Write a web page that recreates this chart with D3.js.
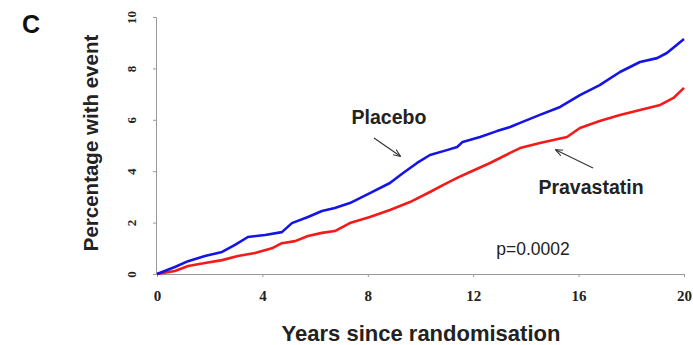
<!DOCTYPE html>
<html>
<head>
<meta charset="utf-8">
<script src="https://cdn.jsdelivr.net/npm/d3@7"></script>
<style>
  body { margin: 0; background: #fff; }
</style>
</head>
<body>
<div id="chart"></div>
<script>
// cumulative event curves (years, percent)
const placeboYears = [0, 0.68, 1.18, 1.82, 2.47, 2.96, 3.45, 4.1, 4.74, 5.12, 5.73, 6.26, 6.75, 7.32, 8.08, 8.84, 9.34, 9.87, 10.36, 11.0, 11.39, 11.6, 12.26, 12.9, 13.4, 13.78, 14.53, 15.3, 16.05, 16.8, 17.57, 18.33, 18.98, 19.35, 20.0];
const placeboPct   = [0, 0.27, 0.5, 0.7, 0.86, 1.13, 1.44, 1.52, 1.63, 1.98, 2.22, 2.45, 2.57, 2.76, 3.15, 3.54, 3.93, 4.32, 4.63, 4.82, 4.94, 5.14, 5.33, 5.56, 5.72, 5.88, 6.19, 6.5, 6.96, 7.35, 7.86, 8.25, 8.4, 8.6, 9.14];
const pravaYears = [0, 0.68, 1.18, 1.82, 2.47, 3.07, 3.72, 4.36, 4.74, 5.24, 5.73, 6.26, 6.75, 7.32, 8.08, 8.84, 9.6, 10.36, 10.85, 11.39, 11.88, 12.64, 13.4, 13.78, 14.53, 15.56, 16.05, 16.8, 17.57, 18.33, 19.1, 19.6, 20.0];
const pravaPct   = [0, 0.12, 0.31, 0.43, 0.54, 0.7, 0.82, 1.0, 1.2, 1.28, 1.48, 1.6, 1.67, 1.98, 2.22, 2.49, 2.8, 3.19, 3.46, 3.74, 3.97, 4.32, 4.71, 4.9, 5.1, 5.33, 5.68, 5.95, 6.19, 6.38, 6.58, 6.85, 7.24];

const xTicks = [0, 4, 8, 12, 16, 20];
const yTicks = [0, 2, 4, 6, 8, 10];

const width = 693, height = 345;

const svg = d3.select("#chart").append("svg")
    .attr("width", width)
    .attr("height", height);

const x = d3.scaleLinear().domain([0, 20]).range([157, 684]);
const y = d3.scaleLinear().domain([0, 10]).range([274, 17]);

const axisColor = "#9a9a9a";

// x axis
const gx = svg.append("g")
    .attr("transform", `translate(0,${y(0)})`)
    .call(d3.axisBottom(x).tickValues(xTicks).tickSize(3).tickPadding(13));
gx.select(".domain").attr("stroke", axisColor);
gx.selectAll(".tick line").attr("stroke", axisColor);
gx.selectAll(".tick text")
    .attr("font-family", "Liberation Serif, Times New Roman, serif")
    .attr("font-weight", "bold")
    .attr("font-size", 15)
    .attr("fill", "#222");

// y axis, labels turned sideways
const gy = svg.append("g")
    .attr("transform", `translate(${x(0) - 1},0)`)
    .call(d3.axisLeft(y).tickValues(yTicks).tickSize(3).tickPadding(0));
gy.select(".domain").attr("stroke", axisColor);
gy.selectAll(".tick line").attr("stroke", axisColor);
gy.selectAll(".tick text")
    .attr("font-family", "Liberation Serif, Times New Roman, serif")
    .attr("font-weight", "bold")
    .attr("font-size", 13)
    .attr("fill", "#222")
    .attr("text-anchor", "middle")
    .attr("dy", null)
    .attr("x", null)
    .attr("transform", "translate(-23,0) rotate(-90)")
    .attr("dominant-baseline", "middle");

// curves
const line = d3.line().x(d => x(d[0])).y(d => y(d[1]));

svg.append("path")
    .datum(d3.zip(pravaYears, pravaPct))
    .attr("d", line)
    .attr("fill", "none")
    .attr("stroke", "#f41a1a")
    .attr("stroke-width", 2.6)
    .attr("stroke-linejoin", "round");

svg.append("path")
    .datum(d3.zip(placeboYears, placeboPct))
    .attr("d", line)
    .attr("fill", "none")
    .attr("stroke", "#1414e6")
    .attr("stroke-width", 2.6)
    .attr("stroke-linejoin", "round");

// arrow heads
svg.append("defs").append("marker")
    .attr("id", "head")
    .attr("viewBox", "0 0 10 10")
    .attr("refX", 9).attr("refY", 5)
    .attr("markerWidth", 7).attr("markerHeight", 7)
    .attr("orient", "auto")
    .append("path")
    .attr("d", "M0,1 L10,5 L0,9")
    .attr("fill", "none")
    .attr("stroke", "#333")
    .attr("stroke-width", 1.4);

const sans = "Liberation Sans, Arial, sans-serif";

svg.append("text")
    .attr("x", 389).attr("y", 124)
    .attr("text-anchor", "middle")
    .attr("font-family", sans).attr("font-weight", "bold").attr("font-size", 19.5)
    .attr("fill", "#222")
    .text("Placebo");

svg.append("line")
    .attr("x1", 374).attr("y1", 138).attr("x2", 400).attr("y2", 156)
    .attr("stroke", "#333").attr("stroke-width", 1.1)
    .attr("marker-end", "url(#head)");

svg.append("text")
    .attr("x", 591).attr("y", 194)
    .attr("text-anchor", "middle")
    .attr("font-family", sans).attr("font-weight", "bold").attr("font-size", 19.5)
    .attr("fill", "#222")
    .text("Pravastatin");

svg.append("line")
    .attr("x1", 593).attr("y1", 168).attr("x2", 556).attr("y2", 150)
    .attr("stroke", "#333").attr("stroke-width", 1.1)
    .attr("marker-end", "url(#head)");

svg.append("text")
    .attr("x", 533).attr("y", 255)
    .attr("text-anchor", "middle")
    .attr("font-family", sans).attr("font-size", 17.5)
    .attr("fill", "#222")
    .text("p=0.0002");

// titles
svg.append("text")
    .attr("x", 421).attr("y", 341)
    .attr("text-anchor", "middle")
    .attr("font-family", sans).attr("font-weight", "bold").attr("font-size", 22)
    .attr("fill", "#222")
    .text("Years since randomisation");

svg.append("text")
    .attr("transform", "translate(98,143) rotate(-90)")
    .attr("text-anchor", "middle")
    .attr("font-family", sans).attr("font-weight", "bold").attr("font-size", 20.5)
    .attr("fill", "#222")
    .text("Percentage with event");

svg.append("text")
    .attr("x", 31).attr("y", 33)
    .attr("text-anchor", "middle")
    .attr("font-family", sans).attr("font-weight", "bold").attr("font-size", 25)
    .attr("fill", "#111")
    .text("C");
</script>
</body>
</html>
